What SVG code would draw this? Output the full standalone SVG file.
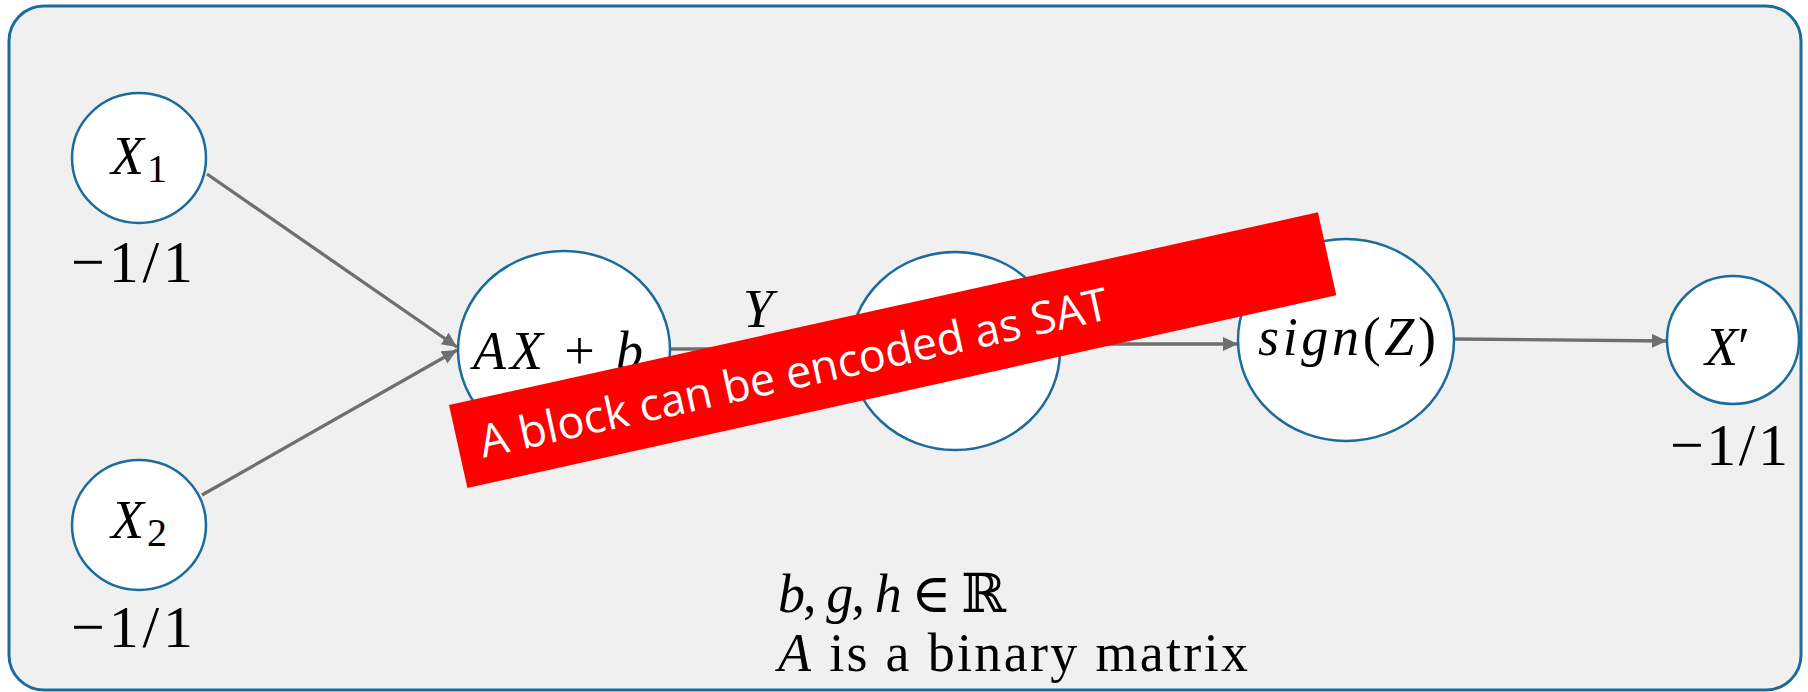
<svg xmlns="http://www.w3.org/2000/svg" width="1808" height="692" viewBox="0 0 1808 692">
<style>
.panel{fill:#f0f0f0;stroke:#1b6c9c;stroke-width:3}
.node{fill:#ffffff;stroke:#1b6c9c;stroke-width:2.5}
.m{font-family:"Liberation Serif","DejaVu Serif",serif;font-size:54px;fill:#000}
.i{font-style:italic}
.sub{font-size:40px}
.num{font-size:60px}
.edge{stroke:#6f6f72;stroke-width:3.3;fill:none;marker-end:url(#ah)}
.banner{fill:#ff0000}
.btext{font-family:"Open Sans","Noto Sans",sans-serif;font-size:45px;fill:#ffffff}
</style>
<defs>
<marker id="ah" markerUnits="userSpaceOnUse" markerWidth="16" markerHeight="16" refX="15" refY="7" orient="auto">
<path d="M0,0 L15,7 L0,14 z" fill="#6f6f72"/>
</marker>
</defs>
<rect class="panel" x="9" y="6" width="1792" height="684" rx="35" ry="35"/>
<g id="connectors">
<path class="edge" d="M207,174 L457,347"/>
<path class="edge" d="M202,495 L457,350"/>
<path class="edge" d="M670,349 L850,349"/>
<path class="edge" d="M1060,344 L1238,344"/>
<path class="edge" d="M1454,339 L1667,341"/>
</g>
<g id="node-x1">
<ellipse class="node" cx="139" cy="158" rx="67" ry="65"/>
<text class="m i" x="111" y="174">X</text>
<text class="m sub" x="147" y="182">1</text>
<text class="m num" x="71" y="282" textLength="122" lengthAdjust="spacing">−1/1</text>
</g>
<g id="node-x2">
<ellipse class="node" cx="139" cy="525" rx="67" ry="65"/>
<text class="m i" x="111" y="538">X</text>
<text class="m sub" x="147" y="546">2</text>
<text class="m num" x="71" y="647" textLength="122" lengthAdjust="spacing">−1/1</text>
</g>
<g id="node-affine">
<ellipse class="node" cx="564" cy="350" rx="106" ry="99"/>
<text class="m" x="473" y="369" textLength="170" lengthAdjust="spacing"><tspan class="i">AX</tspan> + <tspan class="i">b</tspan></text>
</g>
<g id="label-y">
<text class="m i" x="743" y="327">Y</text>
</g>
<g id="node-middle">
<ellipse class="node" cx="955" cy="351" rx="105" ry="99"/>
</g>
<g id="node-sign">
<ellipse class="node" cx="1346" cy="340" rx="108" ry="101"/>
<text class="m" x="1258" y="355" textLength="178" lengthAdjust="spacing"><tspan class="i">sign</tspan>(<tspan class="i">Z</tspan>)</text>
</g>
<g id="node-xprime">
<ellipse class="node" cx="1733" cy="340" rx="66" ry="64"/>
<text class="m" x="1705" y="365"><tspan class="i">X</tspan>′</text>
<text class="m num" x="1670" y="465" textLength="118" lengthAdjust="spacing">−1/1</text>
</g>
<g id="notes">
<text class="m" x="778" y="612" textLength="228" lengthAdjust="spacing"><tspan class="i">b</tspan>, <tspan class="i">g</tspan>, <tspan class="i">h</tspan> ∈ ℝ</text>
<text class="m" x="778" y="671" textLength="470" lengthAdjust="spacing"><tspan class="i">A</tspan> is a binary matrix</text>
</g>
<g id="banner" transform="translate(449,405) rotate(-12.5)">
<rect class="banner" x="0" y="0" width="890" height="85"/>
<text class="btext" x="22" y="59">A block can be encoded as SAT</text>
</g>
</svg>
